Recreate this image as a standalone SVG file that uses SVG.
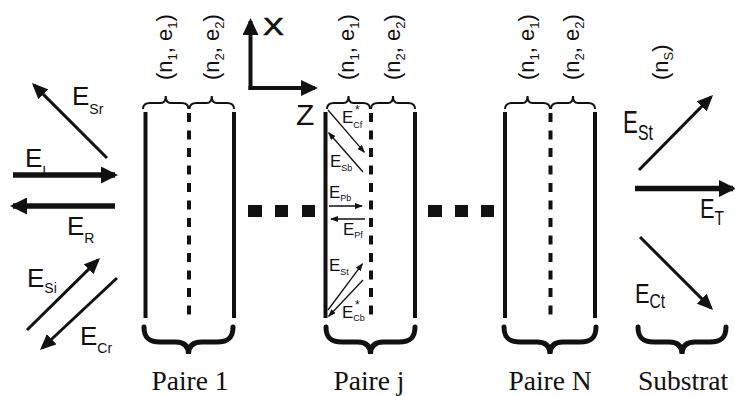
<svg xmlns="http://www.w3.org/2000/svg" width="735" height="396" viewBox="0 0 735 396">
<style>
.bg{fill:#ffffff}
.sans{font-family:"Liberation Sans",Arial,sans-serif;fill:#111}
.serif{font-family:"Liberation Serif","Times New Roman",serif;fill:#111;font-size:27.5px}
.lay{stroke:#111;stroke-width:4;fill:none}
.dash{stroke:#111;stroke-width:4;fill:none;stroke-dasharray:9 8.5}
.bt{stroke:#111;stroke-width:2;fill:none}
.bb{stroke:#111;stroke-width:5;fill:none;stroke-linecap:round}
.thin{stroke:#111;stroke-width:3;fill:none}
.thick{stroke:#111;stroke-width:5.5;fill:none}
.axis{stroke:#111;stroke-width:4;fill:none}
.small{stroke:#111;stroke-width:1.3;fill:none}
.dot{fill:#111}
.eL{font-size:26px}
.eS{font-size:17px}
.lab{font-size:22px}
</style>
<defs>
<marker id="ah" markerUnits="userSpaceOnUse" markerWidth="16" markerHeight="14" viewBox="0 0 16 14" refX="13" refY="7" orient="auto"><path d="M0,0 L16,7 L0,14 z" fill="#111"/></marker>
<marker id="ahT" markerUnits="userSpaceOnUse" markerWidth="17" markerHeight="17" viewBox="0 0 17 17" refX="14" refY="8.5" orient="auto"><path d="M0,0 L17,8.5 L0,17 z" fill="#111"/></marker>
<marker id="ahA" markerUnits="userSpaceOnUse" markerWidth="17" markerHeight="16" viewBox="0 0 17 16" refX="14" refY="8" orient="auto"><path d="M0,0 L17,8 L0,16 z" fill="#111"/></marker>
<marker id="ahS" markerUnits="userSpaceOnUse" markerWidth="8" markerHeight="6" viewBox="0 0 8 6" refX="7" refY="3" orient="auto"><path d="M0,0 L8,3 L0,6 z" fill="#111"/></marker>
</defs>
<rect class="bg" x="0" y="0" width="735" height="396"/>

<g id="axes">
<line class="axis" x1="250.5" y1="90" x2="250.5" y2="21" marker-end="url(#ahA)"/>
<line class="axis" x1="248.5" y1="88" x2="315" y2="88" marker-end="url(#ahA)"/>
<text class="sans" font-size="24" stroke="#111" stroke-width="0.6" transform="translate(263,35) scale(1.3,1)">X</text>
<text class="sans" x="296" y="125" font-size="30">Z</text>
</g>

<g id="pair1">
<line class="lay" x1="145.5" y1="112" x2="145.5" y2="318"/>
<line class="dash" x1="189" y1="113" x2="189" y2="318"/>
<line class="lay" x1="234" y1="112" x2="234" y2="318"/>
<path class="bt" d="M143,109 C143,105 145,103 150,103 L160.75,103 C163.75,103 165.75,101 165.75,96 C165.75,101 167.75,103 170.75,103 L181.5,103 C186.5,103 188.5,105 188.5,109"/>
<path class="bt" d="M189.5,109 C189.5,105 191.5,103 196.5,103 L206.75,103 C209.75,103 211.75,101 211.75,96 C211.75,101 213.75,103 216.75,103 L227,103 C232,103 234,105 234,109"/>
<path class="bb" d="M144,327 C144,338 149,342 160,342 L175.5,342 C184.5,342 188.5,346 188.5,354 C188.5,346 192.5,342 201.5,342 L217,342 C228,342 233,338 233,327"/>
<text class="sans lab" transform="translate(172,80) rotate(-90)">(n<tspan font-size="13" dy="5">1</tspan><tspan dy="-5">, e</tspan><tspan font-size="13" dy="5">1</tspan><tspan dy="-5">)</tspan></text>
<text class="sans lab" transform="translate(218.5,80) rotate(-90)">(n<tspan font-size="13" dy="5">2</tspan><tspan dy="-5">, e</tspan><tspan font-size="13" dy="5">2</tspan><tspan dy="-5">)</tspan></text>
<text class="serif" x="190" y="390" text-anchor="middle">Paire 1</text>
</g>

<g id="dots1">
<rect class="dot" x="248" y="205" width="14" height="12"/>
<rect class="dot" x="275" y="205" width="13" height="12"/>
<rect class="dot" x="302" y="205" width="13" height="12"/>
</g>

<g id="pairj">
<line class="lay" x1="325.5" y1="112" x2="325.5" y2="318"/>
<line class="dash" x1="371" y1="113" x2="371" y2="318"/>
<line class="lay" x1="415" y1="112" x2="415" y2="318"/>
<path class="bt" d="M327,109 C327,105 329,103 334,103 L343.5,103 C346.5,103 348.5,101 348.5,96 C348.5,101 350.5,103 353.5,103 L363,103 C368,103 370,105 370,109"/>
<path class="bt" d="M371,109 C371,105 373,103 378,103 L388,103 C391,103 393,101 393,96 C393,101 395,103 398,103 L408,103 C413,103 415,105 415,109"/>
<path class="bb" d="M326,327 C326,338 331,342 342,342 L357.5,342 C366.5,342 370.5,346 370.5,354 C370.5,346 374.5,342 383.5,342 L399,342 C410,342 415,338 415,327"/>
<text class="sans lab" transform="translate(353.5,80) rotate(-90)">(n<tspan font-size="13" dy="5">1</tspan><tspan dy="-5">, e</tspan><tspan font-size="13" dy="5">1</tspan><tspan dy="-5">)</tspan></text>
<text class="sans lab" transform="translate(400,80) rotate(-90)">(n<tspan font-size="13" dy="5">2</tspan><tspan dy="-5">, e</tspan><tspan font-size="13" dy="5">2</tspan><tspan dy="-5">)</tspan></text>
<text class="serif" x="369" y="390" text-anchor="middle">Paire j</text>
</g>

<g id="dots2">
<rect class="dot" x="428" y="205" width="14" height="12"/>
<rect class="dot" x="455" y="205" width="13" height="12"/>
<rect class="dot" x="481" y="205" width="13" height="12"/>
</g>

<g id="pairN">
<line class="lay" x1="505" y1="112" x2="505" y2="318"/>
<line class="dash" x1="550.5" y1="113" x2="550.5" y2="318"/>
<line class="lay" x1="595" y1="112" x2="595" y2="318"/>
<path class="bt" d="M505,109 C505,105 507,103 512,103 L522.5,103 C525.5,103 527.5,101 527.5,96 C527.5,101 529.5,103 532.5,103 L543,103 C548,103 550,105 550,109"/>
<path class="bt" d="M551,109 C551,105 553,103 558,103 L568,103 C571,103 573,101 573,96 C573,101 575,103 578,103 L588,103 C593,103 595,105 595,109"/>
<path class="bb" d="M504,327 C504,338 509,342 520,342 L537,342 C546,342 550,346 550,354 C550,346 554,342 563,342 L580,342 C591,342 596,338 596,327"/>
<text class="sans lab" transform="translate(533.5,80) rotate(-90)">(n<tspan font-size="13" dy="5">1</tspan><tspan dy="-5">, e</tspan><tspan font-size="13" dy="5">1</tspan><tspan dy="-5">)</tspan></text>
<text class="sans lab" transform="translate(578.5,80) rotate(-90)">(n<tspan font-size="13" dy="5">2</tspan><tspan dy="-5">, e</tspan><tspan font-size="13" dy="5">2</tspan><tspan dy="-5">)</tspan></text>
<text class="serif" x="550" y="390" text-anchor="middle">Paire N</text>
</g>

<g id="substrat">
<path class="bb" d="M638,327 C638,338 643,342 654,342 L669,342 C678,342 682,346 682,354 C682,346 686,342 695,342 L710,342 C721,342 726,338 726,327"/>
<text class="sans lab" transform="translate(668,80) rotate(-90)">(n<tspan font-size="13" dy="5">S</tspan><tspan dy="-5">)</tspan></text>
<text class="serif" x="683" y="390" text-anchor="middle">Substrat</text>
</g>

<g id="connectors">
<line class="thin" x1="107" y1="158" x2="34.1" y2="85.1" marker-end="url(#ah)"/>
<line class="thick" x1="13" y1="175" x2="115" y2="175" marker-end="url(#ahT)"/>
<line class="thick" x1="115" y1="206" x2="13" y2="206" marker-end="url(#ahT)"/>
<line class="thin" x1="27" y1="330" x2="97.9" y2="260.1" marker-end="url(#ah)"/>
<line class="thin" x1="117" y1="278" x2="42.2" y2="348" marker-end="url(#ah)"/>
<line class="thin" x1="639" y1="170" x2="710.9" y2="97.1" marker-end="url(#ah)"/>
<line class="thick" x1="635" y1="188.5" x2="733" y2="188.5" marker-end="url(#ahT)"/>
<line class="thin" x1="640" y1="237" x2="710.9" y2="307.9" marker-end="url(#ah)"/>
<line class="small" x1="328" y1="110" x2="364.3" y2="152.2" marker-end="url(#ahS)"/>
<line class="small" x1="363" y1="172" x2="328.7" y2="132.8" marker-end="url(#ahS)"/>
<line class="small" x1="329" y1="206" x2="362" y2="206" marker-end="url(#ahS)"/>
<line class="small" x1="365" y1="219" x2="331" y2="219" marker-end="url(#ahS)"/>
<line class="small" x1="328" y1="310" x2="362.4" y2="263.8" marker-end="url(#ahS)"/>
<line class="small" x1="363" y1="280" x2="328.7" y2="316.3" marker-end="url(#ahS)"/>
</g>

<g id="field-labels">
<text class="sans eL" x="72" y="105">E<tspan font-size="14" dy="9">Sr</tspan></text>
<text class="sans eL" x="25" y="167">E<tspan font-size="14" dy="9">I</tspan></text>
<text class="sans eL" x="67" y="235">E<tspan font-size="14" dy="8">R</tspan></text>
<text class="sans eL" x="27" y="287">E<tspan font-size="14" dy="6">Si</tspan></text>
<text class="sans eL" x="80" y="345">E<tspan font-size="14" dy="8">Cr</tspan></text>
<text class="sans" font-size="31" transform="translate(623,133) scale(0.72,1)">E<tspan font-size="22" dy="7">St</tspan></text>
<text class="sans" font-size="28" transform="translate(700,218) scale(0.78,1)">E<tspan font-size="20" dy="7">T</tspan></text>
<text class="sans" font-size="28" transform="translate(635,303) scale(0.78,1)">E<tspan font-size="20" dy="5">Ct</tspan></text>
<text class="sans eS" x="342" y="123">E<tspan font-size="9" dy="5">Cf</tspan><tspan font-size="12" x="355" y="114">*</tspan></text>
<text class="sans eS" x="330" y="167">E<tspan font-size="9" dy="4">Sb</tspan></text>
<text class="sans eS" x="329" y="198">E<tspan font-size="9" dy="3">Pb</tspan></text>
<text class="sans eS" x="343" y="235">E<tspan font-size="9" dy="3">Pf</tspan></text>
<text class="sans eS" x="329" y="271">E<tspan font-size="9" dy="4">St</tspan></text>
<text class="sans eS" x="342" y="318">E<tspan font-size="9" dy="3">Cb</tspan><tspan font-size="12" x="355" y="309">*</tspan></text>
</g>
</svg>
